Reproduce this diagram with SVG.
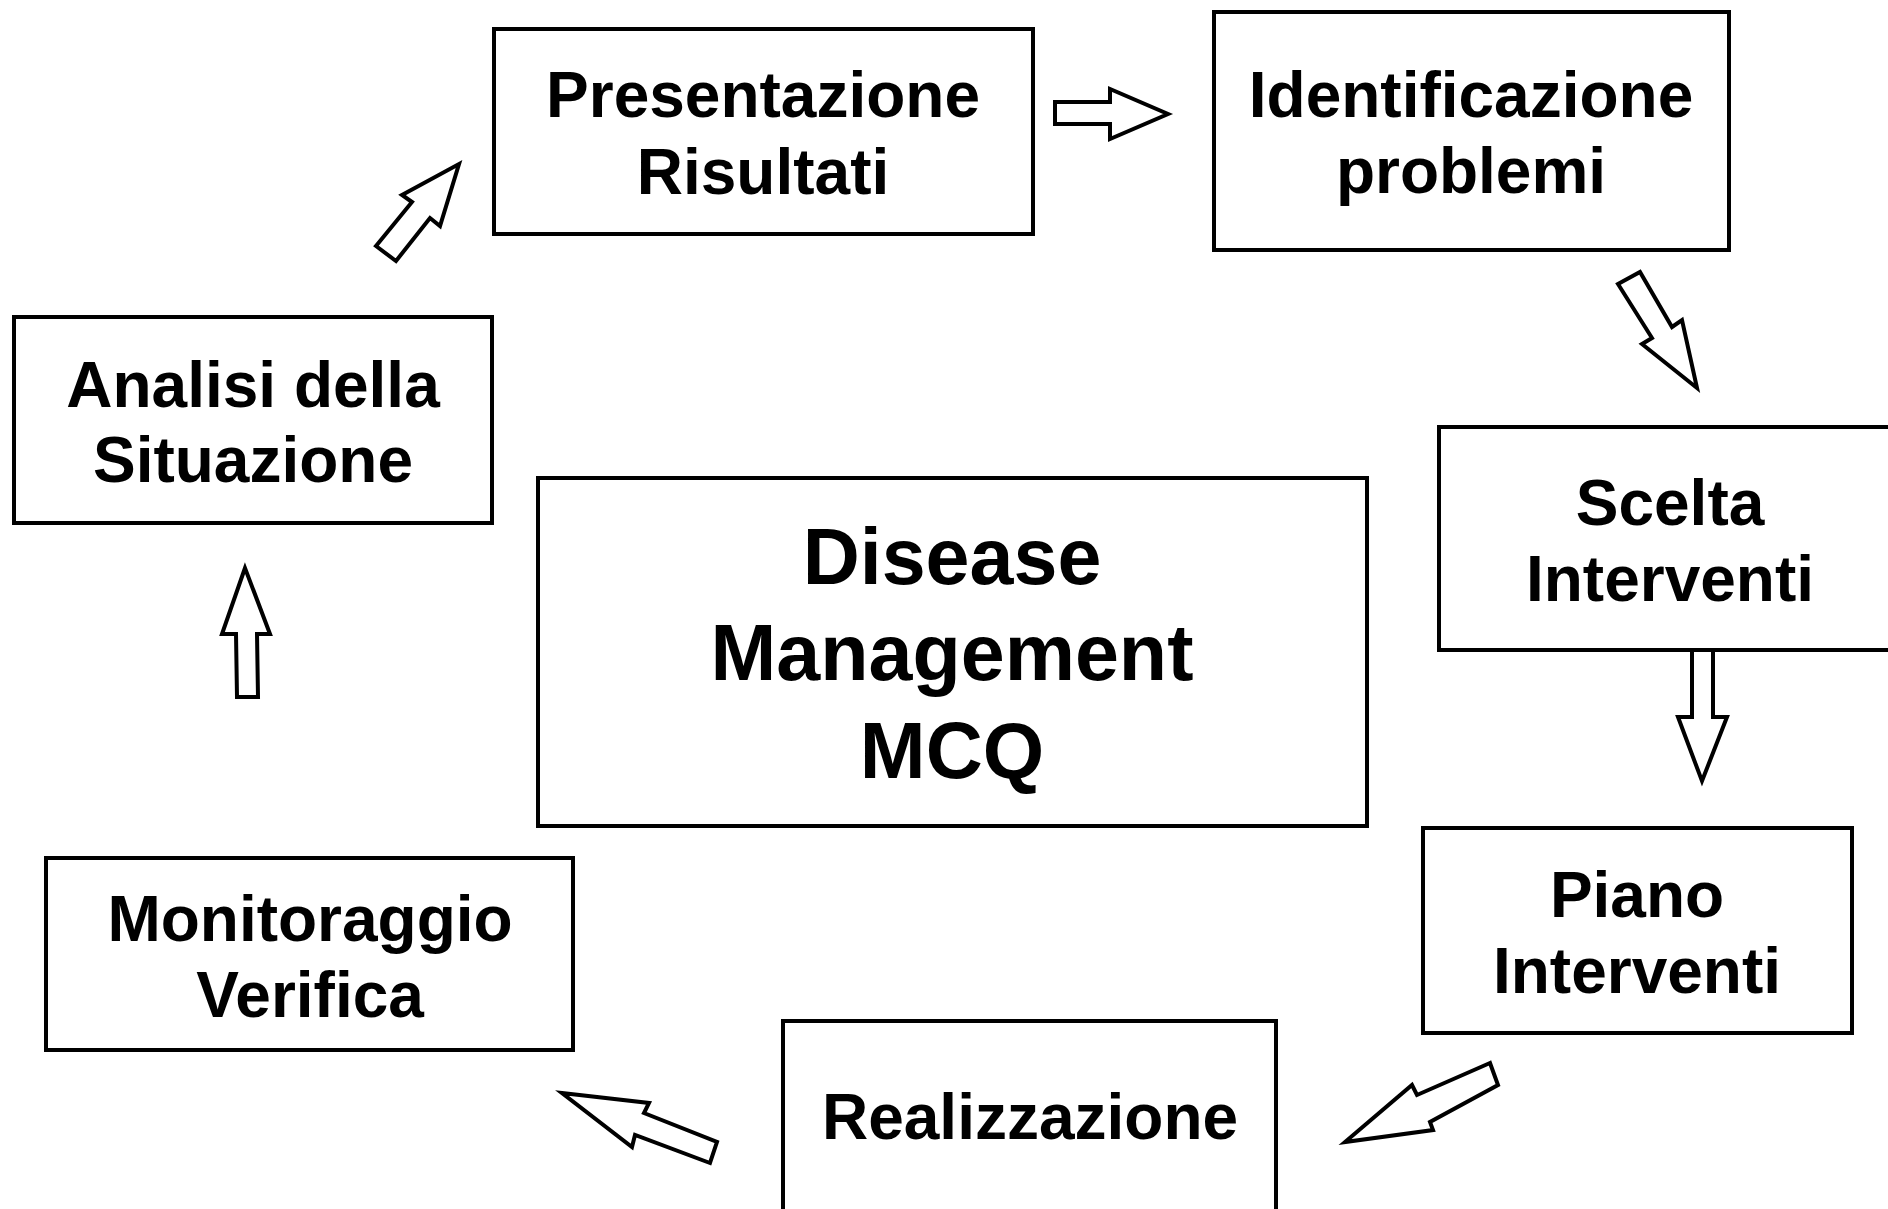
<svg xmlns="http://www.w3.org/2000/svg" width="1888" height="1209" viewBox="0 0 1888 1209">
  <style>
    .box { fill: #ffffff; stroke: #000000; stroke-width: 4; }
    .lbl { font-family: "Liberation Sans", Arial, sans-serif; font-weight: bold; font-size: 64px; fill: #000000; text-anchor: middle; }
    .title { font-size: 79px; }
    .arrow { fill: #ffffff; stroke: #000000; stroke-width: 4; stroke-linejoin: miter; }
  </style>
  <rect width="1888" height="1209" fill="#ffffff"/>

  <g id="node-presentazione">
    <rect class="box" x="494" y="29" width="539" height="205"/>
    <text class="lbl" x="763" y="117">Presentazione</text>
    <text class="lbl" x="763" y="194">Risultati</text>
  </g>

  <g id="node-identificazione">
    <rect class="box" x="1214" y="12" width="515" height="238"/>
    <text class="lbl" x="1471" y="117">Identificazione</text>
    <text class="lbl" x="1471" y="193">problemi</text>
  </g>

  <g id="node-scelta">
    <rect class="box" x="1439" y="427" width="463" height="223"/>
    <text class="lbl" x="1670" y="525">Scelta</text>
    <text class="lbl" x="1670" y="601">Interventi</text>
  </g>

  <g id="node-piano">
    <rect class="box" x="1423" y="828" width="429" height="205"/>
    <text class="lbl" x="1637" y="917">Piano</text>
    <text class="lbl" x="1637" y="993">Interventi</text>
  </g>

  <g id="node-realizzazione">
    <rect class="box" x="783" y="1021" width="493" height="192"/>
    <text class="lbl" x="1030" y="1139">Realizzazione</text>
  </g>

  <g id="node-monitoraggio">
    <rect class="box" x="46" y="858" width="527" height="192"/>
    <text class="lbl" x="310" y="941">Monitoraggio</text>
    <text class="lbl" x="310" y="1017">Verifica</text>
  </g>

  <g id="node-analisi">
    <rect class="box" x="14" y="317" width="478" height="206"/>
    <text class="lbl" x="253" y="407">Analisi della</text>
    <text class="lbl" x="253" y="482">Situazione</text>
  </g>

  <g id="node-center">
    <rect class="box" x="538" y="478" width="829" height="348"/>
    <text class="lbl title" x="952" y="584">Disease</text>
    <text class="lbl title" x="952" y="680">Management</text>
    <text class="lbl title" x="952" y="778">MCQ</text>
  </g>

  <g id="connectors">
    <!-- Analisi -> Presentazione -->
    <polygon class="arrow" points="376,246 412,202 402,195 459,164 440,226 430,218 396,261"/>
    <!-- Presentazione -> Identificazione -->
    <polygon class="arrow" points="1055,102 1110,102 1110,89 1168,114 1110,139 1110,124 1055,124"/>
    <!-- Identificazione -> Scelta -->
    <polygon class="arrow" points="1618,284 1652,338 1642,344 1697,388 1682,320 1672,327 1640,272"/>
    <!-- Scelta -> Piano -->
    <polygon class="arrow" points="1692,650 1692,717 1678,717 1702,781 1727,717 1713,717 1713,650"/>
    <!-- Piano -> Realizzazione -->
    <polygon class="arrow" points="1490,1063 1417,1095 1412,1085 1345,1142 1433,1130 1430,1122 1498,1085"/>
    <!-- Realizzazione -> Monitoraggio -->
    <polygon class="arrow" points="562,1093 649,1103 644,1113 717,1142 710,1163 635,1135 632,1147"/>
    <!-- Monitoraggio -> Analisi -->
    <polygon class="arrow" points="245,568 222,634 236,634 237,697 258,697 257,634 270,634"/>
  </g>
</svg>
